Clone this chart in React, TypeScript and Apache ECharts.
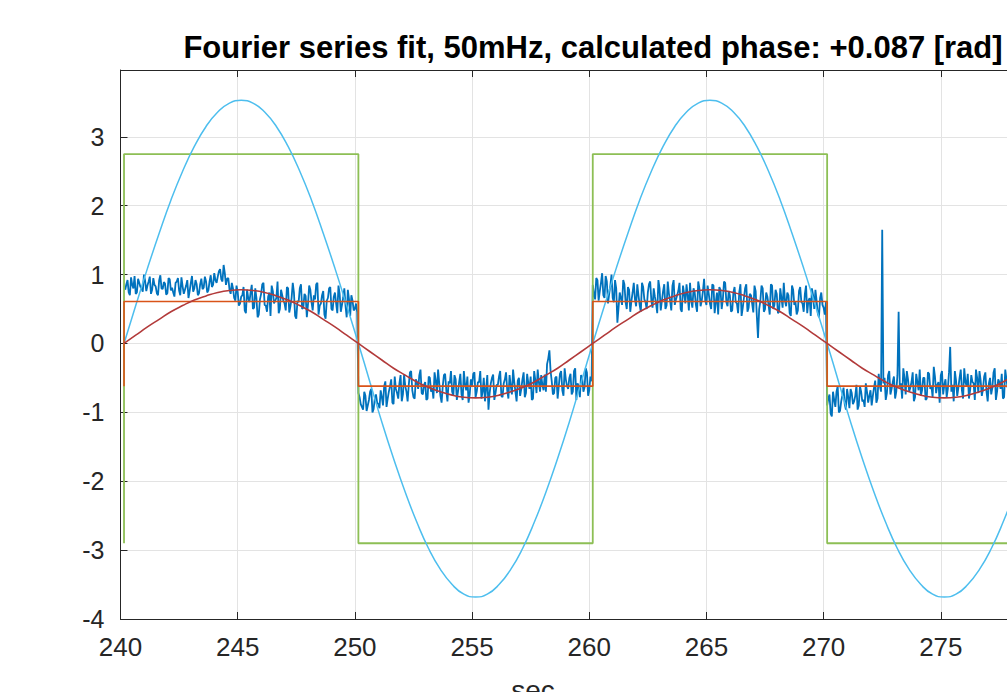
import React, { useEffect, useRef } from "react";
import * as echarts from "echarts";

const TITLE = "Fourier series fit, 50mHz, calculated phase: +0.087 [rad]";
const X_LABEL = "sec";

// Measured noisy signal, read on a 0.1 s grid starting at 240.2 s
const NOISE_START = 240.2;
const NOISE_STEP = 0.1;
const noiseValues: number[] = [
  // 240.2 - 250.1
  0.78, 0.92, 0.70, 0.85, 0.98, 0.74, 0.88, 0.80, 1.00,
  0.76, 0.90, 0.72, 0.95, 0.83, 0.70, 0.99, 0.79, 0.87, 0.73,
  0.93, 0.81, 0.68, 0.90, 0.77, 0.96, 0.72, 0.84, 0.66, 0.88,
  0.75, 0.92, 0.70, 0.86, 0.79, 0.97, 0.74, 0.90, 0.82, 1.02,
  0.88, 1.05, 0.93, 1.14, 0.85, 0.95, 0.72, 0.80, 0.62, 0.75,
  0.58, 0.70, 0.48, 0.78, 0.60, 0.85, 0.52, 0.66, 0.42, 0.72,
  0.88, 0.55, 0.68, 0.40, 0.76, 0.62, 0.90, 0.50, 0.70, 0.58,
  0.82, 0.45, 0.66, 0.74, 0.36, 0.60, 0.86, 0.52, 0.69, 0.57,
  0.78, 0.48, 0.64, 0.88, 0.55, 0.70, 0.42, 0.62, 0.80, 0.50,
  0.68, 0.58, 0.84, 0.46, 0.66, 0.55, 0.78, 0.40, 0.62, 0.50, 0.45,
  // 250.2 - 260.1
  -0.78, -0.92, -0.70, -0.98, -0.82, -0.66, -0.95, -0.74, -0.88,
  -0.68, -0.90, -0.55, -0.80, -0.62, -0.86, -0.48, -0.72, -0.58, -0.84,
  -0.45, -0.70, -0.60, -0.40, -0.78, -0.52, -0.66, -0.38, -0.74, -0.56,
  -0.80, -0.50, -0.64, -0.42, -0.72, -0.58, -0.86, -0.46, -0.68, -0.55,
  -0.40, -0.76, -0.52, -0.70, -0.44, -0.82, -0.60, -0.48, -0.74, -0.62,
  -0.42, -0.70, -0.56, -0.80, -0.50, -0.66, -0.96, -0.58, -0.45, -0.72,
  -0.60, -0.40, -0.78, -0.52, -0.68, -0.46, -0.74, -0.56, -0.84, -0.50,
  -0.66, -0.42, -0.72, -0.58, -0.48, -0.80, -0.54, -0.38, -0.70, -0.60,
  -0.45, -0.30, -0.10, -0.55, -0.72, -0.48, -0.62, -0.40, -0.76, -0.52,
  -0.66, -0.44, -0.70, -0.36, -0.58, -0.78, -0.50, -0.64, -0.42, -0.68, -0.55,
  // 260.2 - 270.1
  0.72, 0.95, 0.62, 0.88, 0.70, 0.98, 0.58, 0.84, 0.66,
  0.92, 0.30, 0.74, 0.56, 0.86, 0.50, 0.78, 0.62, 0.88, 0.54,
  0.70, 0.46, 0.82, 0.60, 0.74, 0.90, 0.52, 0.68, 0.44, 0.80,
  0.62, 0.86, 0.55, 0.72, 0.48, 0.92, 0.64, 0.76, 0.50, 0.84,
  0.58, 0.70, 0.88, 0.52, 0.74, 0.46, 0.80, 0.62, 0.94, 0.56,
  0.72, 0.50, 0.84, 0.60, 0.42, 0.78, 0.64, 0.88, 0.54, 0.70,
  0.48, 0.82, 0.58, 0.74, 0.40, 0.66, 0.86, 0.52, 0.70, 0.45,
  0.76, 0.08, 0.62, 0.80, 0.50, 0.68, 0.42, 0.84, 0.56, 0.72,
  0.46, 0.66, 0.88, 0.54, 0.70, 0.40, 0.78, 0.60, 0.48, 0.82,
  0.58, 0.72, 0.44, 0.66, 0.80, 0.50, 0.62, 0.38, 0.74, 0.52, 0.60,
  // 270.2 - 280.0
  -0.80, -1.02, -0.70, -0.92, -0.62, -0.98, -0.75, -0.88, -0.66,
  -0.94, -0.72, -0.84, -0.60, -0.90, -0.70, -0.82, -0.58, -0.86, -0.68,
  -0.76, -0.54, -0.80, -0.62, 1.65, -0.50, -0.72, -0.40, -0.66, -0.48,
  -0.70, 0.46, -0.58, -0.36, -0.74, -0.52, -0.64, -0.42, -0.78, -0.56,
  -0.38, -0.68, -0.50, -0.80, -0.44, -0.62, -0.34, -0.72, -0.56, -0.46,
  -0.74, -0.52, -0.66, -0.05, -0.60, -0.40, -0.76, -0.50, -0.68, -0.36,
  -0.62, -0.80, -0.46, -0.58, -0.38, -0.72, -0.54, -0.66, -0.42, -0.84,
  -0.50, -0.64, -0.36, -0.70, -0.56, -0.44, -0.78, -0.52, -0.60, -0.40,
  -0.68, -0.48, -0.74, -0.56, -0.38, -0.66, -0.50, -0.80, -0.44, -0.62,
  -0.54, -0.40, -0.72, -0.58, -0.46, -0.68, -0.52, -0.36, -0.64, -0.50,
];

// In-between samples of the same signal, at 240.25 s + 0.1 s steps
const NOISE_MID_OFFSET = 0.05;
const noiseMidValues: number[] = [
  // 240.25 - 250.05
  0.86, 0.74, 0.96, 0.80, 0.72, 0.94, 0.82, 0.75, 0.91, 0.84,
  0.97, 0.78, 0.85, 0.73, 0.92, 0.80, 0.89, 0.71, 0.95, 0.77,
  0.74, 0.88, 0.95, 0.70, 0.83, 0.78, 0.92, 0.76, 0.98, 0.80,
  0.86, 0.73, 0.94, 0.81, 0.90, 0.77, 0.99, 0.85, 0.92, 0.97,
  1.08, 0.90, 1.02, 0.94, 0.78, 0.88, 0.66, 0.84, 0.55, 0.68,
  0.82, 0.44, 0.66, 0.74, 0.50, 0.80, 0.38, 0.64, 0.86, 0.56,
  0.46, 0.74, 0.84, 0.58, 0.66, 0.44, 0.78, 0.62, 0.48, 0.80,
  0.54, 0.88, 0.40, 0.62, 0.80, 0.50, 0.72, 0.38, 0.84, 0.60,
  0.70, 0.86, 0.42, 0.58, 0.76, 0.36, 0.66, 0.82, 0.48, 0.74,
  0.44, 0.72, 0.56, 0.80, 0.38, 0.64, 0.70, 0.48, 0.58,
  // 250.15 - 260.05
  -0.72, -0.88, -0.96, -0.76, -0.90, -0.70, -1.00, -0.80, -0.86, -0.94,
  -0.78, -0.62, -0.92, -0.70, -0.52, -0.88, -0.66, -0.80, -0.46, -0.74,
  -0.62, -0.84, -0.42, -0.68, -0.80, -0.56, -0.46, -0.72, -0.60, -0.82,
  -0.48, -0.70, -0.80, -0.54, -0.38, -0.76, -0.62, -0.44, -0.84, -0.58,
  -0.70, -0.46, -0.82, -0.56, -0.74, -0.40, -0.68, -0.86, -0.52, -0.44,
  -0.78, -0.56, -0.40, -0.70, -0.84, -0.46, -0.72, -0.50, -0.82, -0.60,
  -0.48, -0.76, -0.58, -0.42, -0.80, -0.62, -0.38, -0.70, -0.54, -0.76,
  -0.52, -0.78, -0.44, -0.66, -0.82, -0.40, -0.72, -0.56, -0.46, -0.68,
  -0.70, -0.22, -0.40, -0.74, -0.50, -0.80, -0.44, -0.68, -0.36, -0.62,
  -0.50, -0.74, -0.40, -0.82, -0.62, -0.46, -0.70, -0.36, -0.76, -0.48,
  // 260.15 - 270.05
  0.85, 0.64, 0.92, 0.76, 1.02, 0.66, 0.90, 0.72, 1.00, 0.60,
  0.80, 0.52, 0.66, 0.92, 0.60, 0.82, 0.46, 0.74, 0.64, 0.86,
  0.56, 0.88, 0.64, 0.50, 0.86, 0.62, 0.80, 0.58, 0.92, 0.48,
  0.76, 0.50, 0.90, 0.62, 0.84, 0.56, 0.70, 0.88, 0.46, 0.72,
  0.86, 0.48, 0.62, 0.80, 0.56, 0.90, 0.54, 0.76, 0.62, 0.84,
  0.58, 0.86, 0.44, 0.74, 0.82, 0.50, 0.90, 0.60, 0.76, 0.46,
  0.74, 0.60, 0.44, 0.86, 0.52, 0.80, 0.46, 0.72, 0.58, 0.84,
  0.40, 0.50, 0.84, 0.46, 0.74, 0.56, 0.86, 0.50, 0.78, 0.44,
  0.80, 0.52, 0.62, 0.74, 0.44, 0.84, 0.56, 0.42, 0.76, 0.60,
  0.46, 0.84, 0.62, 0.40, 0.70, 0.78, 0.44, 0.66, 0.56, 0.42,
  // 270.15 - 279.95
  -0.90, -0.74, -1.06, -0.82, -0.70, -1.00, -0.84, -0.64, -0.96, -0.78,
  -0.66, -0.88, -0.76, -0.96, -0.62, -0.84, -0.92, -0.70, -0.76, -0.90,
  -0.64, -0.86, -0.44, -0.70, -0.58, -0.82, -0.46, -0.74, -0.56, -0.80,
  -0.46, -0.64, -0.80, -0.50, -0.40, -0.70, -0.56, -0.84, -0.44, -0.68,
  -0.76, -0.50, -0.82, -0.42, -0.66, -0.78, -0.48, -0.60, -0.86, -0.40,
  -0.60, -0.78, -0.42, -0.70, -0.84, -0.54, -0.64, -0.38, -0.80, -0.56,
  -0.44, -0.68, -0.56, -0.82, -0.50, -0.40, -0.76, -0.48, -0.70, -0.58,
  -0.74, -0.42, -0.82, -0.52, -0.66, -0.80, -0.38, -0.64, -0.76, -0.54,
  -0.44, -0.80, -0.58, -0.40, -0.70, -0.84, -0.42, -0.60, -0.72, -0.46,
  -0.76, -0.58, -0.44, -0.82, -0.62, -0.40, -0.74, -0.56, -0.68,
];

// Square-wave reference (green) and its level step (orange)
const squareTimes = [240.15, 240.15, 250.15, 260.15, 270.15, 280];
const squareValues = [-2.9, 2.75, -2.9, 2.75, -2.9, -2.9];
const levelValues = [-0.62, 0.61, -0.62, 0.61, -0.62, -0.62];

// Smooth curves read every 0.5 s starting at 240.15 s
const CURVE_START = 240.15;
const CURVE_STEP = 0.5;
const bigSine = [
  0, 0.55, 1.09, 1.60, 2.08, 2.50, 2.86, 3.15, 3.36, 3.49, 3.53, 3.49, 3.36, 3.15, 2.86, 2.50, 2.08, 1.60, 1.09, 0.55,
  0, -0.57, -1.14, -1.67, -2.16, -2.60, -2.98, -3.28, -3.50, -3.64, -3.68, -3.64, -3.50, -3.28, -2.98, -2.60, -2.16, -1.67, -1.14, -0.57,
  0, 0.55, 1.09, 1.60, 2.08, 2.50, 2.86, 3.15, 3.36, 3.49, 3.53, 3.49, 3.36, 3.15, 2.86, 2.50, 2.08, 1.60, 1.09, 0.55,
  0, -0.57, -1.14, -1.67, -2.16, -2.60, -2.98, -3.28, -3.50, -3.64, -3.68, -3.64, -3.50, -3.28, -2.98, -2.60, -2.16, -1.67, -1.14, -0.57,
  0,
];
const fitSine = [
  0, 0.12, 0.24, 0.35, 0.46, 0.55, 0.63, 0.69, 0.74, 0.77, 0.78, 0.77, 0.74, 0.69, 0.63, 0.55, 0.46, 0.35, 0.24, 0.12,
  0, -0.12, -0.24, -0.36, -0.46, -0.56, -0.64, -0.70, -0.75, -0.78, -0.79, -0.78, -0.75, -0.70, -0.64, -0.56, -0.46, -0.36, -0.24, -0.12,
  0, 0.12, 0.24, 0.35, 0.46, 0.55, 0.63, 0.69, 0.74, 0.77, 0.78, 0.77, 0.74, 0.69, 0.63, 0.55, 0.46, 0.35, 0.24, 0.12,
  0, -0.12, -0.24, -0.36, -0.46, -0.56, -0.64, -0.70, -0.75, -0.78, -0.79, -0.78, -0.75, -0.70, -0.64, -0.56, -0.46, -0.36, -0.24, -0.12,
  0,
];

const xMin = 240;
const xMax = 280;
const yMin = -4;
const yMax = 3.97;

const FONT = "'Liberation Sans', Arial, Helvetica, sans-serif";
const AXIS_COLOR = "#262626";
const GRID_COLOR = "#E3E3E3";

export default function App() {
  const ref = useRef<HTMLDivElement>(null);

  useEffect(() => {
    if (!ref.current) return;
    const chart = echarts.init(ref.current, undefined, { renderer: "svg" });

    const noiseData: number[][] = [];
    noiseValues.forEach((v, i) => {
      const t = NOISE_START + i * NOISE_STEP;
      noiseData.push([+t.toFixed(2), v]);
      if (i < noiseMidValues.length) {
        noiseData.push([+(t + NOISE_MID_OFFSET).toFixed(2), noiseMidValues[i]]);
      }
    });
    const squareData = squareTimes.map((t, i) => [t, squareValues[i]]);
    const levelData = squareTimes.map((t, i) => [t, levelValues[i]]);
    const bigData = bigSine.map((v, i) => [+(CURVE_START + i * CURVE_STEP).toFixed(2), v]);
    const fitData = fitSine.map((v, i) => [+(CURVE_START + i * CURVE_STEP).toFixed(2), v]);

    chart.setOption({
      animation: false,
      backgroundColor: "#ffffff",
      grid: {
        left: 120.5,
        right: -51,
        top: 70,
        bottom: 73,
        containLabel: false,
        outerBoundsMode: "none",
      },
      graphic: [
        {
          type: "text",
          x: 593,
          y: 47,
          style: {
            text: TITLE,
            fill: "#000000",
            font: `bold 31px ${FONT}`,
            textAlign: "center",
            textVerticalAlign: "middle",
          },
        },
        {
          type: "text",
          x: 533,
          y: 690,
          style: {
            text: X_LABEL,
            fill: AXIS_COLOR,
            font: `28px ${FONT}`,
            textAlign: "center",
            textVerticalAlign: "middle",
          },
        },
      ],
      xAxis: [
        {
          type: "value",
          min: xMin,
          max: xMax,
          interval: 5,
          position: "bottom",
          axisLine: { show: true, onZero: false, lineStyle: { color: AXIS_COLOR, width: 1 } },
          axisTick: { show: true, inside: true, length: 7, lineStyle: { color: AXIS_COLOR } },
          axisLabel: {
            show: true,
            color: AXIS_COLOR,
            fontSize: 26,
            fontFamily: FONT,
            margin: 15,
            showMaxLabel: false,
          },
          splitLine: { show: true, lineStyle: { color: GRID_COLOR, width: 1 } },
        },
        {
          type: "value",
          min: xMin,
          max: xMax,
          interval: 5,
          position: "top",
          axisLine: { show: true, onZero: false, lineStyle: { color: AXIS_COLOR, width: 1 } },
          axisTick: { show: true, inside: true, length: 7, lineStyle: { color: AXIS_COLOR } },
          axisLabel: { show: false },
          splitLine: { show: false },
        },
      ],
      yAxis: {
        type: "value",
        min: yMin,
        max: yMax,
        interval: 1,
        axisLine: { show: true, onZero: false, lineStyle: { color: AXIS_COLOR, width: 1 } },
        axisTick: { show: true, inside: true, length: 7, lineStyle: { color: AXIS_COLOR } },
        axisLabel: {
          show: true,
          color: AXIS_COLOR,
          fontSize: 25,
          fontFamily: FONT,
          margin: 16,
          showMaxLabel: false,
        },
        splitLine: { show: true, lineStyle: { color: GRID_COLOR, width: 1 } },
      },
      series: [
        {
          name: "measured",
          type: "line",
          xAxisIndex: 0,
          data: noiseData,
          showSymbol: false,
          lineStyle: { color: "#0072BD", width: 1.8 },
          z: 2,
        },
        {
          name: "square",
          type: "line",
          xAxisIndex: 0,
          data: squareData,
          step: "end",
          showSymbol: false,
          lineStyle: { color: "#8DBF55", width: 1.8 },
          z: 3,
        },
        {
          name: "square sine",
          type: "line",
          xAxisIndex: 0,
          data: bigData,
          smooth: true,
          showSymbol: false,
          lineStyle: { color: "#4DBEEE", width: 1.5 },
          z: 3,
        },
        {
          name: "level",
          type: "line",
          xAxisIndex: 0,
          data: levelData,
          step: "end",
          showSymbol: false,
          lineStyle: { color: "#D95319", width: 1.6 },
          z: 4,
        },
        {
          name: "fit",
          type: "line",
          xAxisIndex: 0,
          data: fitData,
          smooth: true,
          showSymbol: false,
          lineStyle: { color: "#B23A3A", width: 1.6 },
          z: 5,
        },
      ],
    });

    return () => chart.dispose();
  }, []);

  return (
    <div
      ref={ref}
      style={{ position: "fixed", left: 0, top: 0, width: 1007, height: 692, background: "#fff" }}
    />
  );
}
